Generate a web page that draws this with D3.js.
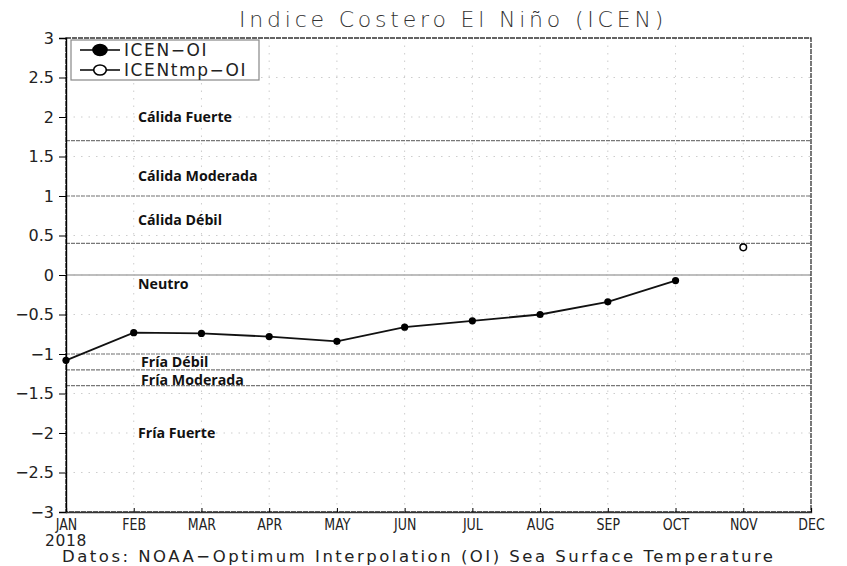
<!DOCTYPE html>
<html>
<head>
<meta http-equiv="Content-type" content="text/html; charset=utf-8">
<title>ICEN</title>
<script src="https://cdn.jsdelivr.net/npm/d3@7"></script>
<style>
  body { margin:0; background:#fff; }
  .tick text, .lbl { font-family: "DejaVu Sans", sans-serif; }
  .cat { font-family: "Open Sans", sans-serif; font-weight:700; font-size:14.2px; fill:#111; }
</style>
</head>
<body>
<script type="text/javascript">

// months on the x axis
var months = ["JAN","FEB","MAR","APR","MAY","JUN","JUL","AUG","SEP","OCT","NOV","DEC"];
// ICEN-OI values (Jan..Oct 2018)
var icenMonths = ["JAN","FEB","MAR","APR","MAY","JUN","JUL","AUG","SEP","OCT"];
var icenValues = [-1.08, -0.73, -0.74, -0.78, -0.84, -0.66, -0.58, -0.50, -0.34, -0.07];
// temporary ICEN
var tmpMonths = ["NOV"];
var tmpValues = [0.35];
// y ticks
var yTicks = [-3,-2.5,-2,-1.5,-1,-0.5,0,0.5,1,1.5,2,2.5,3];
// category thresholds and labels
var thresholds = [1.7, 1, 0.4, 0, -1, -1.2, -1.4];
var catNames = ["Cálida Fuerte","Cálida Moderada","Cálida Débil","Neutro","Fría Débil","Fría Moderada","Fría Fuerte"];
var catValues = [2.0, 1.25, 0.7, -0.12, -1.1, -1.33, -2.0];

var W = 847, H = 566;
var pLeft = 66, pRight = 811, pTop = 38, pBottom = 512;

var svg = d3.select("body").append("svg").attr("width", W).attr("height", H);

var x = d3.scalePoint().domain(months).range([pLeft, pRight]);
var y = d3.scaleLinear().domain([-3, 3]).range([pBottom, pTop]);

// grid
svg.append("g").selectAll("line").data(months).enter().append("line")
  .attr("x1", d => x(d)).attr("x2", d => x(d)).attr("y1", pTop).attr("y2", pBottom)
  .attr("stroke", "#cdcdcd").attr("stroke-dasharray", "1.5,6");
svg.append("g").selectAll("line").data(yTicks).enter().append("line")
  .attr("x1", pLeft).attr("x2", pRight).attr("y1", d => y(d)).attr("y2", d => y(d))
  .attr("stroke", "#cdcdcd").attr("stroke-dasharray", "1.5,6");

// threshold lines
svg.append("g").selectAll("line").data(thresholds).enter().append("line")
  .attr("x1", pLeft).attr("x2", pRight).attr("y1", d => y(d)).attr("y2", d => y(d))
  .attr("stroke", d => d === 0 ? "#a8a8a8" : "#777")
  .attr("stroke-width", d => d === 0 ? 1.6 : 1.2)
  .attr("stroke-dasharray", d => d === 0 ? null : "4,1");

// frame
svg.append("rect").attr("x", pLeft).attr("y", pTop).attr("width", pRight-pLeft).attr("height", pBottom-pTop)
  .attr("fill", "none").attr("stroke", "#333").attr("stroke-width", 1.3).attr("stroke-dasharray", "5,1");

// axes
var yAxis = d3.axisLeft(y).tickValues(yTicks).tickSize(7).tickPadding(5)
  .tickFormat(d => d3.format("")(d).replace("-", "\u2212"));
var gy = svg.append("g").attr("transform", "translate(" + pLeft + ",0)").call(yAxis);
gy.select(".domain").attr("stroke", "#000").attr("stroke-width", 1.4);
gy.selectAll(".tick line").attr("stroke", "#000");
gy.selectAll("text").attr("font-size", 16).attr("fill", "#222").attr("dy", "0.33em");

var xAxis = d3.axisBottom(x).tickSize(-4).tickPadding(9);
var gx = svg.append("g").attr("transform", "translate(0," + pBottom + ")").call(xAxis);
gx.select(".domain").attr("stroke", "#333").attr("stroke-width", 1.3);
gx.selectAll(".tick line").attr("stroke", "#000");
gx.selectAll("text").attr("font-size", 15).attr("fill", "#222").attr("dy", "0.6em")
  .attr("transform", "scale(0.84,1)");

// category labels
svg.append("g").selectAll("text").data(catNames).enter().append("text")
  .attr("class", "cat")
  .attr("x", (d,i) => (i === 4 || i === 5) ? 141 : 138)
  .attr("y", (d,i) => y(catValues[i]))
  .attr("dy", "0.35em")
  .text(d => d);

// series line
var line = d3.line().x(d => x(d[0])).y(d => y(d[1]));
var icenData = icenMonths.map((m,i) => [m, icenValues[i]]);
svg.append("path").datum(icenData).attr("d", line)
  .attr("fill", "none").attr("stroke", "#111").attr("stroke-width", 1.8);
svg.append("g").selectAll("circle").data(icenData).enter().append("circle")
  .attr("cx", d => x(d[0])).attr("cy", d => y(d[1])).attr("r", 3.6).attr("fill", "#000");

var tmpData = tmpMonths.map((m,i) => [m, tmpValues[i]]);
svg.append("g").selectAll("circle").data(tmpData).enter().append("circle")
  .attr("cx", d => x(d[0])).attr("cy", d => y(d[1])).attr("r", 3.3)
  .attr("fill", "#fff").attr("stroke", "#000").attr("stroke-width", 1.5);

// legend
var lg = svg.append("g");
lg.append("rect").attr("x", 71).attr("y", 40).attr("width", 188).attr("height", 40)
  .attr("fill", "#fff").attr("stroke", "#888").attr("stroke-width", 1.2);
[["ICEN\u2212OI", true], ["ICENtmp\u2212OI", false]].forEach(function(item, i) {
  var yy = 50 + i * 20;
  lg.append("line").attr("x1", 80).attr("x2", 120).attr("y1", yy).attr("y2", yy)
    .attr("stroke", "#000").attr("stroke-width", 1.6);
  lg.append("ellipse").attr("cx", 100).attr("cy", yy).attr("rx", item[1] ? 7 : 6.3).attr("ry", item[1] ? 5.5 : 5)
    .attr("fill", item[1] ? "#000" : "#fff").attr("stroke", "#000").attr("stroke-width", 1.6);
  lg.append("text").attr("class", "lbl").attr("x", 124).attr("y", yy).attr("dy", "0.36em")
    .attr("font-size", 17).attr("fill", "#222").attr("letter-spacing", 1.6).text(item[0]);
});

// title and footnotes
svg.append("text").attr("class", "lbl").attr("x", 453).attr("y", 27).attr("text-anchor", "middle")
  .attr("font-size", 22).attr("font-weight", 300).attr("fill", "#333").attr("letter-spacing", 3.8)
  .text("Indice Costero El Niño (ICEN)");
svg.append("text").attr("class", "lbl").attr("x", 45).attr("y", 546)
  .attr("font-size", 15.5).attr("fill", "#222").attr("letter-spacing", 0.6).text("2018");
svg.append("text").attr("class", "lbl").attr("x", 62).attr("y", 562)
  .attr("font-size", 16.5).attr("fill", "#222").attr("letter-spacing", 2.5)
  .text("Datos: NOAA\u2212Optimum Interpolation (OI) Sea Surface Temperature");

</script>
</body>
</html>
